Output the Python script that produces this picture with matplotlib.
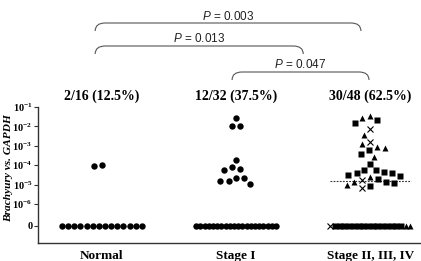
import numpy as np
import matplotlib
matplotlib.use('Agg')
import matplotlib.pyplot as plt
from matplotlib.path import Path
from matplotlib.patches import PathPatch
from matplotlib.transforms import blended_transform_factory

plt.rcParams['mathtext.fontset'] = 'custom'
plt.rcParams['mathtext.rm'] = 'Liberation Serif:bold'
plt.rcParams['mathtext.bf'] = 'Liberation Serif:bold'
plt.rcParams['mathtext.it'] = 'Liberation Serif:italic:bold'
plt.rcParams['mathtext.sf'] = 'Liberation Sans:italic'

# ---------------- data ----------------
categories = ['Normal', 'Stage I', 'Stage II, III, IV']
count_labels = ['2/16 (12.5%)', '12/32 (37.5%)', '30/48 (62.5%)']

normal_vals = [1.05e-4, 0.95e-4] + [0] * 14
stage1_vals = [2.6e-2, 1.1e-2, 1.1e-2, 1.86e-4, 7.8e-5, 6.2e-5, 5.5e-5,
               2.3e-5, 2.3e-5, 1.55e-5, 1.55e-5, 1.12e-5] + [0] * 20
# Stage II-IV subgroups (squares / triangles / crosses)
late_square_vals = [2.1e-2, 1.55e-2, 3.8e-4, 6.0e-4, 1.15e-4, 5.6e-5, 4.6e-5,
                    3.8e-5, 2.75e-5, 3.1e-5, 3.8e-5, 5.6e-5, 1.95e-5, 1.17e-5,
                    8.5e-6, 1.4e-5] + [0] * 15
late_triangle_vals = [3.5e-2, 2.6e-2, 3.6e-3, 7.9e-4, 1.2e-3, 8.3e-4, 2.75e-4,
                      2.4e-5, 1.4e-5, 9.5e-6] + [0] * 2
late_cross_vals = [7.1e-3, 1.6e-3, 1.75e-5, 6.5e-6] + [0] * 1

ytick_vals = [1e-1, 1e-2, 1e-3, 1e-4, 1e-5, 1e-6, 0]
ytick_labels = [r'$10^{-1}$', r'$10^{-2}$', r'$10^{-3}$', r'$10^{-4}$',
                r'$10^{-5}$', r'$10^{-6}$', '0']

comparisons = [  # (x start, x end, label, top y px)
    (-0.05, 1.93, '0.003', 23),
    (-0.05, 1.50, '0.013', 46),
    (0.97, 1.99, '0.047', 72),
]

ZERO_POS = -7.13


def to_y(v):
    v = np.asarray(v, dtype=float)
    out = np.full(v.shape, ZERO_POS)
    pos = v > 0
    out[pos] = np.log10(v[pos])
    return out


W, H = 421, 261
fig = plt.figure(figsize=(W / 100, H / 100), dpi=100)
ax = fig.add_axes([38 / W, 1 - 243 / H, (420 - 38) / W, (243 - 107) / H])
ax.set_xlim(-0.476, 2.37)
ax.set_ylim(-8.01, -1.0)

# pixel scales
px_per_x = ax.transData.transform((1, 0))[0] - ax.transData.transform((0, 0))[0]
px_per_y = ax.transData.transform((0, 1))[1] - ax.transData.transform((0, 0))[1]


def swarm(vals, d=8.3, row_width=80.0, zero_order=None):
    vals = np.asarray(vals, dtype=float)
    y = to_y(vals) * px_per_y
    n = len(vals)
    offs = np.zeros(n)
    zero_idx = np.where(vals == 0)[0]
    if zero_order is not None:
        zero_idx = zero_idx[np.argsort(zero_order[zero_idx], kind='stable')]
    nz = len(zero_idx)
    if nz > 1:
        sp = min(d, row_width / (nz - 1))
        offs[zero_idx] = (np.arange(nz) - (nz - 1) / 2) * sp
    pos_idx = np.where(vals > 0)[0]
    pos_idx = pos_idx[np.argsort(-y[pos_idx], kind='stable')]
    placed = []
    for i in pos_idx:
        cands = [0.0]
        for j in placed:
            dy = y[i] - y[j]
            if abs(dy) < d:
                dx = np.sqrt(d * d - dy * dy)
                cands += [offs[j] + dx, offs[j] - dx]
        cands = sorted(cands, key=lambda c: (abs(c), c))
        for c in cands:
            ok = True
            for j in placed:
                if (c - offs[j]) ** 2 + (y[i] - y[j]) ** 2 < d * d - 1e-6:
                    ok = False
                    break
            if ok:
                offs[i] = c
                break
        placed.append(i)
    return offs / px_per_x


# medians
groups_all = [np.array(normal_vals), np.array(stage1_vals),
              np.array(late_square_vals + late_triangle_vals + late_cross_vals)]
for k, g in enumerate(groups_all):
    med = np.median(g)
    ax.hlines(to_y([med])[0], k - 0.3, k + 0.3, colors='#333333',
              linestyles=(0, (1.6, 1.2)), lw=0.8, zorder=1)

# Normal & Stage I
for k, vals in enumerate([normal_vals, stage1_vals]):
    offs = swarm(vals)
    ax.plot(k + offs, to_y(vals), 'o', color='black', ms=4.6, mec='none',
            zorder=3, clip_on=False)

# Stage II-IV
late_vals = np.array(late_square_vals + late_triangle_vals + late_cross_vals)
late_kind = np.array([1] * len(late_square_vals) + [2] * len(late_triangle_vals)
                     + [0] * len(late_cross_vals))
offs = swarm(late_vals, zero_order=late_kind)
yy = to_y(late_vals)
for kind, mk, ms, kw in [(1, 's', 4.3, dict(mec='none')),
                         (2, '^', 4.9, dict(mec='none')),
                         (0, 'x', 4.0, dict(mew=0.8))]:
    sel = late_kind == kind
    ax.plot(2 + offs[sel], yy[sel], mk, color='black', ms=ms, zorder=3,
            clip_on=False, **kw)

# axes styling
for s in ['top', 'right']:
    ax.spines[s].set_visible(False)
for s in ['left', 'bottom']:
    ax.spines[s].set_color('#333333')
    ax.spines[s].set_linewidth(1.0)
ax.set_yticks(to_y(ytick_vals))
ax.set_yticklabels(ytick_labels, fontsize=7.5, fontfamily='Liberation Serif',
                   fontweight='bold')
ax.tick_params(axis='y', length=3, width=0.8, color='#333333', pad=1)
ax.set_xticks(range(len(categories)))
ax.set_xticklabels(categories, fontsize=9.5, fontfamily='Liberation Serif',
                   fontweight='bold')
ax.tick_params(axis='x', length=0, pad=5)

# y label (placed by its centre)
fig.text(8.5 / W, 1 - 168 / H, 'Brachyury vs. GAPDH', rotation=90,
         ha='center', va='center', fontsize=8.2, fontfamily='Liberation Serif',
         fontweight='bold', fontstyle='italic')

# count labels
bt = blended_transform_factory(ax.transData, fig.transFigure)
for k, lab in enumerate(count_labels):
    fig.text(k, 1 - 96 / H, lab, transform=bt, ha='center', va='center',
             fontsize=10, fontfamily='Liberation Serif', fontweight='bold')

# brackets
inv = fig.transFigure.inverted()
for x1, x2, lab, ytop in comparisons:
    px1 = ax.transData.transform((x1, 0))[0]
    px2 = ax.transData.transform((x2, 0))[0]
    rx, dy = 10, 8
    pts_px = [(px1, H - (ytop + dy)), (px1, H - ytop), (px1 + rx, H - ytop),
              (px2 - rx, H - ytop), (px2, H - ytop), (px2, H - (ytop + dy))]
    pts = inv.transform(pts_px)
    codes = [Path.MOVETO, Path.CURVE3, Path.CURVE3, Path.LINETO,
             Path.CURVE3, Path.CURVE3]
    fig.add_artist(PathPatch(Path(pts, codes), fill=False, edgecolor='#555555',
                             lw=0.8, transform=fig.transFigure))
    xm = (x1 + x2) / 2
    fig.text(xm, 1 - (ytop - 7) / H, r'$\mathsf{P}$ = ' + lab, transform=bt,
             ha='center', va='center', fontsize=8.5,
             fontfamily='Liberation Sans', color='#222222')

fig.savefig('out.png', dpi=100)
